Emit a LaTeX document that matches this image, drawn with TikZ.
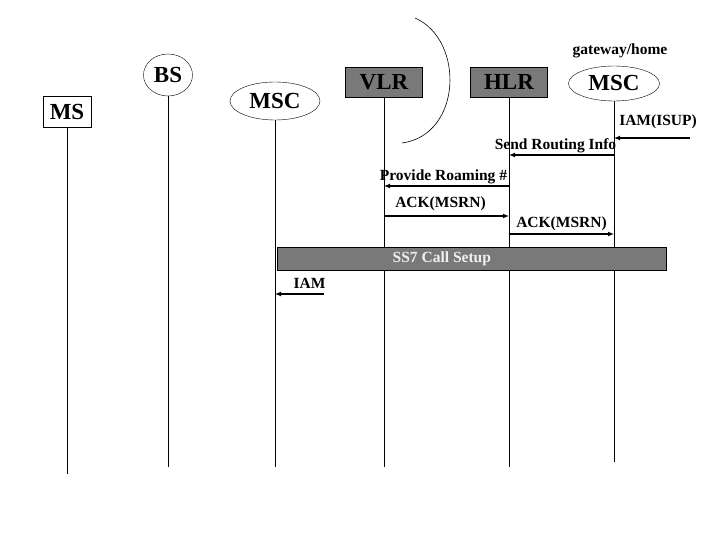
\documentclass[tikz,border=0pt]{standalone}
\usepackage{fontspec}
\setmainfont{Liberation Serif}
\usetikzlibrary{shapes.geometric,positioning,arrows.meta}

\begin{document}
\begin{tikzpicture}[
    x=1pt, y=-1pt,
    entity/.style={inner sep=0pt, font=\fontsize{23}{25}\selectfont\bfseries},
    msbox/.style={entity, rectangle, draw, minimum width=48pt, minimum height=31pt},
    oval/.style={entity, ellipse, draw},
    dbbox/.style={entity, rectangle, draw, fill=gray!95!black, minimum width=77pt, minimum height=30pt},
    lifeline/.style={line width=0.8pt},
    msg/.style={-{Latex[length=6pt, width=5pt]}, line width=2.2pt},
    msglabel/.style={font=\fontsize{15.5}{17}\selectfont\bfseries, inner sep=1pt},
    ss7bar/.style={rectangle, draw, line width=0.6pt, fill=gray!95!black, minimum width=389pt, minimum height=23pt, anchor=north west}
]
\useasboundingbox (0,0) rectangle (720,540);

% Entities
\node[msbox] (ms) at (67,111.5) {MS};
\node[oval, minimum width=49pt, minimum height=42pt] (bs) at (168,75) {BS};
\node[oval, minimum width=90pt, minimum height=38pt] (msc) at (275,101) {MSC};
\node[dbbox] (vlr) at (384,82) {VLR};
\node[dbbox] (hlr) at (509,82) {HLR};
\node[oval, minimum width=91pt, minimum height=35pt] (gmsc) at (614,83.5) {MSC};
\node[msglabel, above=7pt of gmsc, xshift=6pt] (gwlabel) {gateway/home};

% Visited / home boundary
\draw[line width=0.6pt] (415,18) .. controls (465,40) and (462,135) .. (402,143);

% Lifelines
\coordinate (msend) at (67,474);
\coordinate (bottom) at (0,467);
\coordinate (gend) at (614,462);
\draw[lifeline] (ms) -- (msend);
\draw[lifeline] (bs) -- (bs |- bottom);
\draw[lifeline] (msc) -- (msc |- bottom);
\draw[lifeline] (vlr) -- (vlr |- bottom);
\draw[lifeline] (hlr) -- (hlr |- bottom);
\draw[lifeline] (gmsc) -- (gend);

% Messages
\coordinate (isup) at (690,138);
\coordinate (sri) at (0,155);
\coordinate (prn) at (0,186);
\coordinate (ack1) at (0,216);
\coordinate (ack2) at (0,234);
\coordinate (iam) at (324,294);

\draw[msg] (isup) -- node[msglabel, above=7pt, xshift=6pt] {IAM(ISUP)} (gmsc |- isup);
\draw[msg] (gmsc |- sri) -- node[msglabel, above, xshift=-6pt] {Send Routing Info} (hlr |- sri);
\draw[msg] (hlr |- prn) -- node[msglabel, above, xshift=-3pt] {Provide Roaming \#} (vlr |- prn);
\draw[msg] (vlr |- ack1) -- node[msglabel, above=3pt, xshift=-6pt] {ACK(MSRN)} (hlr |- ack1);
\draw[msg] (hlr |- ack2) -- node[msglabel, above=1pt] {ACK(MSRN)} (gmsc |- ack2);

% SS7 call setup
\node[ss7bar] (ss7) at (277,247) {};
\node[msglabel, text=white!94!black, xshift=-30pt] at (ss7.center) {SS7 Call Setup};

\draw[msg] (iam) -- node[msglabel, above=3pt, xshift=10pt] {IAM} (msc |- iam);

\end{tikzpicture}
\end{document}
